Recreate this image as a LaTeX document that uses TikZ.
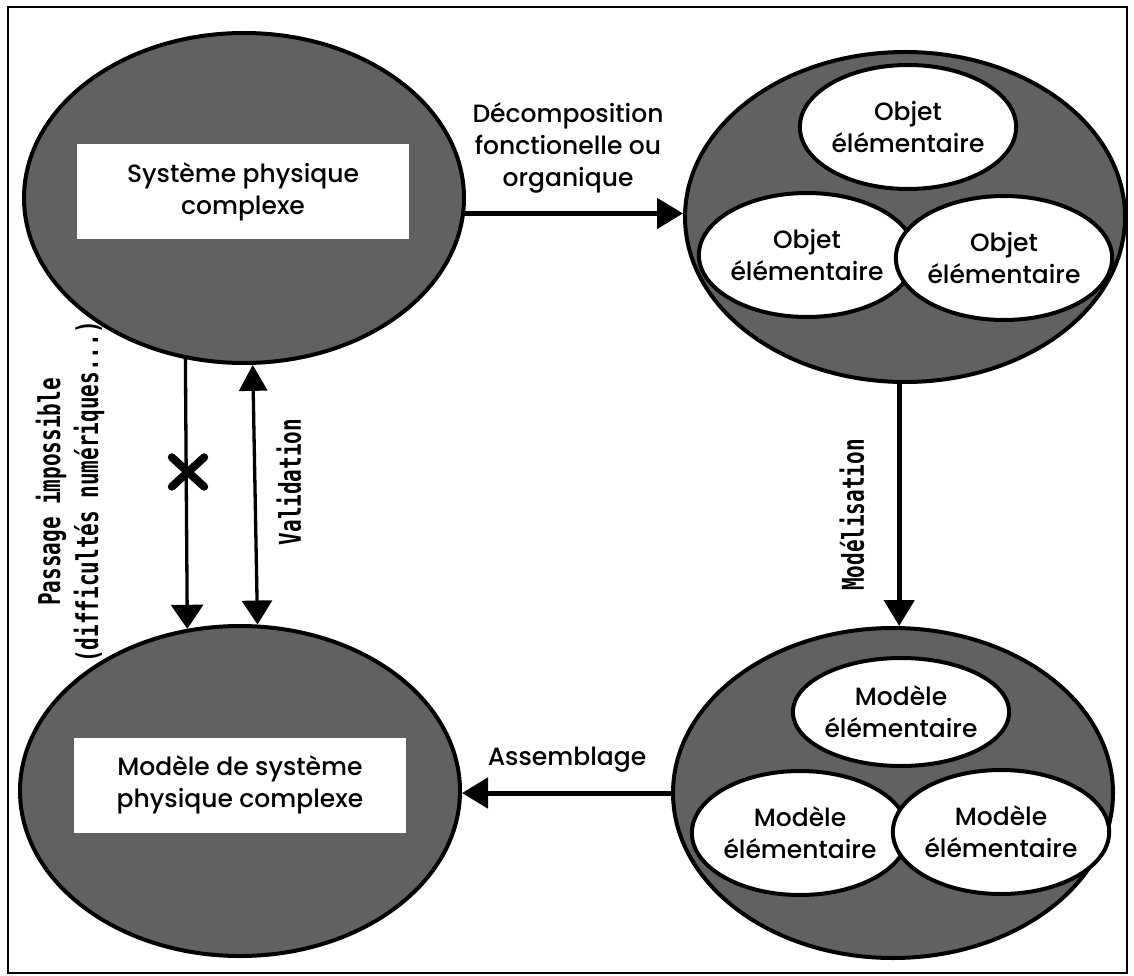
\documentclass[tikz,border=0pt]{standalone}
\usepackage{fontspec}
\setmainfont{Poppins Medium}
\newfontfamily\narrowmono[FakeStretch=0.7]{DejaVu Sans Mono Bold}
\usetikzlibrary{arrows.meta,shapes.geometric}

\begin{document}
\begin{tikzpicture}[x=1pt,y=-1pt,
  every node/.style={font=\fontsize{25}{32}\selectfont, align=center},
  bigell/.style={ellipse, draw=black, line width=4pt, fill=black!62,
    minimum width=440pt, minimum height=330pt, inner sep=0pt},
  smallell/.style={ellipse, draw=black, line width=4pt, fill=white,
    minimum width=188pt, minimum height=124pt, inner sep=0pt},
  whitebox/.style={rectangle, fill=white, draw=none, inner sep=0pt,
    minimum width=332pt, minimum height=95pt},
  sidelabel/.style={rotate=90, font=\narrowmono\fontsize{30}{38}\selectfont},
  thickarrow/.style={line width=5pt, -{Triangle[length=26pt,width=30pt]}},
  thinarrow/.style={line width=3.3pt, -{Triangle[length=24pt,width=32pt]}},
  twoway/.style={line width=3.3pt, {Triangle[length=26pt,width=28pt]}-{Triangle[length=24pt,width=30pt]}},
  markbox/.style={rectangle, draw=none, minimum width=32pt,
    minimum height=29pt, inner sep=0pt},
  markstroke/.style={line width=8pt, line cap=round}
]
\useasboundingbox (0,0) rectangle (1134,976);
\draw[line width=2.5pt] (8,7) rectangle (1127,973);

% the four large shaded ellipses
\node[bigell] (sysA) at (244,198) {};
\node[bigell] (objs) at (905,217) {};
\node[bigell] (mods) at (893,793) {};
\node[bigell] (sysB) at (240,791) {};

% contents of the physical system and of its model
\node[whitebox] (boxA) at (243,192) {Système physique\\complexe};
\node[whitebox] (boxB) at (240,785) {Modèle de système\\physique complexe};

% elementary objects
\node[smallell] (o1) at (908,127) {Objet\\élémentaire};
\node[smallell] (o2) at (807,255) {Objet\\élémentaire};
\node[smallell] (o3) at (1004,258) {Objet\\élémentaire};

% elementary models
\node[smallell, minimum height=108pt] (m1) at (901,712) {Modèle\\élémentaire};
\node[smallell] (m2) at (800,833) {Modèle\\élémentaire};
\node[smallell] (m3) at (1001,832) {Modèle\\élémentaire};

% decomposition
\draw[thickarrow] (sysA.356.3) -- (sysA.356.3 -| objs.west);
\node (decomp) at (568,148) {Décomposition\\fonctionelle ou\\organique};

% modelling
\draw[thickarrow] (objs.268.3) -- (objs.268.3 |- mods.north);
\node[sidelabel] (modlab) at (852,515) {Modélisation};

% assembly
\draw[thickarrow] (mods.west) -- (mods.west -| sysB.east);
\node (assemb) at (567,760) {Assemblage};

% impossible direct passage, struck out with a cross
\draw[thinarrow] (sysA.250.3) -- (sysB.108.3);
\node[markbox] (nogo) at (188,472) {};
\draw[markstroke] (nogo.north west) -- (nogo.south east);
\draw[markstroke] (nogo.south west) -- (nogo.north east);
\node[sidelabel] (passage) at (70,492)
  {Passage impossible\\(difficultés numériques...)};

% validation
\draw[twoway] (sysA.273.8) -- (sysB.84.8);
\node[sidelabel] (valid) at (289,482) {Validation};
\end{tikzpicture}
\end{document}
